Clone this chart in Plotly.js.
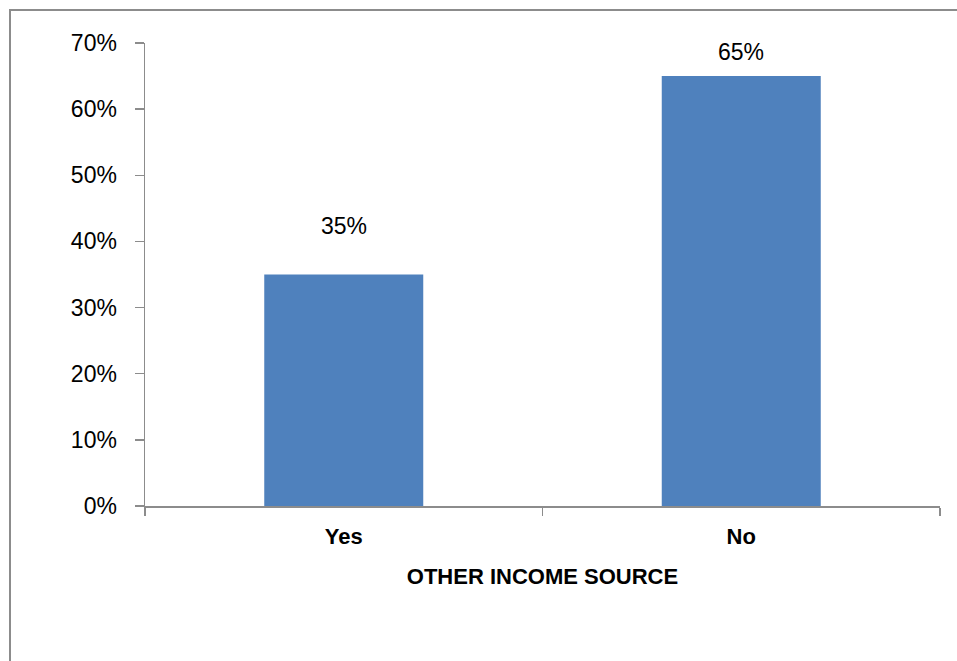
<!DOCTYPE html>
<html><head><meta charset="utf-8">
<script src="https://cdn.plot.ly/plotly-3.0.1.min.js"></script>
<style>
html,body{margin:0;padding:0;background:#fff;}
#frame{position:absolute;left:9px;top:9px;width:960px;height:670px;border-left:2px solid #8c8c8c;border-top:2px solid #8c8c8c;pointer-events:none;}
#chart{width:957px;height:661px;}
</style></head>
<body>
<div id="chart"></div>
<div id="frame"></div>
<script>
const categories = ["Yes", "No"];
const shares = [0.35, 0.65];
const labels = ["35%", "65%"];
const labelShift = [49, 24];
const yTickVals = [0, 0.1, 0.2, 0.3, 0.4, 0.5, 0.6, 0.7];
const yTickText = ["0%", "10%", "20%", "30%", "40%", "50%", "60%", "70%"];

const trace = {
  type: "bar",
  x: categories,
  y: shares,
  width: 0.4,
  marker: {color: "#4F81BD"},
  hoverinfo: "skip"
};

const annotations = categories.map((c, i) => ({
  x: c, y: shares[i], xref: "x", yref: "y",
  text: labels[i], showarrow: false, yanchor: "middle", yshift: labelShift[i],
  font: {family: "Liberation Sans, Arial, sans-serif", size: 23, color: "#000"}
}));

const layout = {
  width: 957, height: 661,
  margin: {l: 145, r: 17, t: 43, b: 155},
  paper_bgcolor: "#fff", plot_bgcolor: "#fff",
  showlegend: false,
  bargap: 0.6,
  xaxis: {
    type: "category",
    range: [-0.5, 1.5],
    tickson: "boundaries",
    ticks: "outside", ticklen: 8, tickcolor: "#8c8c8c", tickwidth: 1.5,
    showline: true, linecolor: "#8c8c8c", linewidth: 1.5,
    showgrid: false, zeroline: false,
    tickfont: {family: "Liberation Sans, Arial, sans-serif", size: 22, color: "#000", weight: "bold"},
    ticklabelstandoff: 10,
    title: {text: "<b>OTHER INCOME SOURCE</b>", font: {family: "Liberation Sans, Arial, sans-serif", size: 22, color: "#000"}, standoff: 20}
  },
  yaxis: {
    range: [0, 0.7],
    tickvals: yTickVals,
    ticktext: yTickText,
    ticks: "outside", ticklen: 9, tickcolor: "#8c8c8c", tickwidth: 1.5,
    showline: true, linecolor: "#8c8c8c", linewidth: 1.5,
    showgrid: false, zeroline: false,
    ticklabelstandoff: 13,
    tickfont: {family: "Liberation Sans, Arial, sans-serif", size: 23, color: "#000"}
  },
  annotations: annotations
};

Plotly.newPlot("chart", [trace], layout, {displayModeBar: false, staticPlot: true});
</script>
</body></html>
